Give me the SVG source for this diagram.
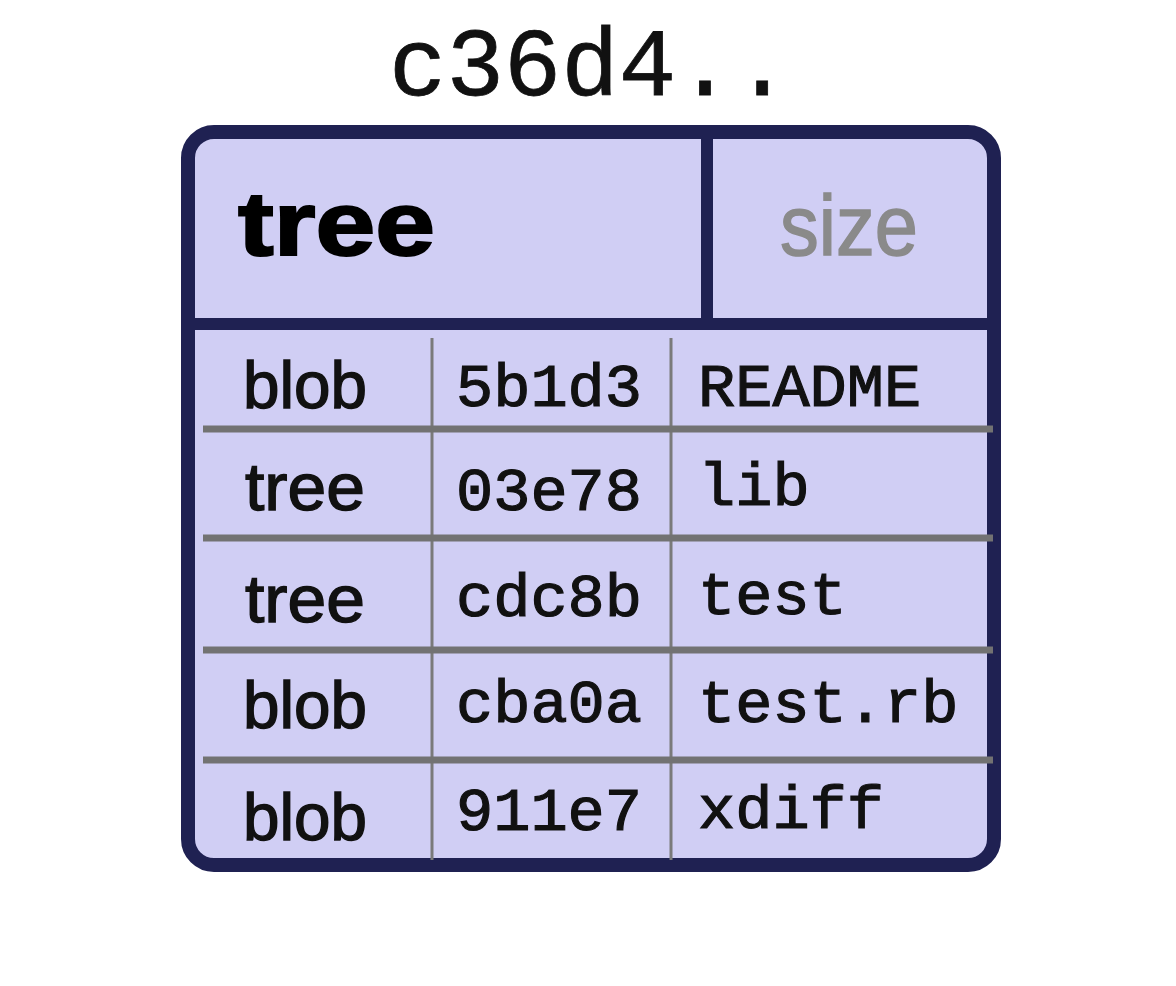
<svg xmlns="http://www.w3.org/2000/svg" width="1176" height="986" viewBox="0 0 1176 986">
  <style>
    .frame { fill: #d0cef4; stroke: #1f2152; stroke-width: 14; }
    .hdiv { stroke: #1f2152; stroke-width: 12; fill: none; }
    .rdiv { stroke: #727272; stroke-width: 7; fill: none; }
    .cdiv { stroke: #7a7a7a; stroke-width: 3; fill: none; }
    .mono { font-family: "Liberation Mono", "Courier New", monospace; fill: #111; }
    .cell { stroke: #111; stroke-width: 1.2; }
    .sans { font-family: "Liberation Sans", Arial, sans-serif; fill: #111; }
    .kind { stroke: #111; stroke-width: 1.4; }
  </style>
  <rect width="1176" height="986" fill="#ffffff"/>
  <text id="title" class="mono" x="389" y="95" font-size="96" textLength="402" lengthAdjust="spacingAndGlyphs" style="stroke:#111;stroke-width:0.8">c36d4..</text>
  <g id="tree-object">
    <rect class="frame" x="188" y="132" width="806" height="733" rx="26" ry="26"/>
    <line class="hdiv" x1="188" y1="324" x2="994" y2="324"/>
    <line class="hdiv" x1="707" y1="132" x2="707" y2="324"/>
    <text class="sans" x="238" y="255" font-size="90" font-weight="bold" style="fill:#000;stroke:#000;stroke-width:2" textLength="197" lengthAdjust="spacingAndGlyphs">tree</text>
    <text class="sans" x="780" y="255" font-size="86" style="fill:#8a8a8a;stroke:#8a8a8a;stroke-width:1.5" textLength="138" lengthAdjust="spacingAndGlyphs">size</text>
  </g>
  <g id="rows">
    <line class="cdiv" x1="432" y1="338" x2="432" y2="860"/>
    <line class="cdiv" x1="671" y1="338" x2="671" y2="860"/>
    <line class="rdiv" x1="203" y1="429" x2="993" y2="429"/>
    <line class="rdiv" x1="203" y1="538" x2="993" y2="538"/>
    <line class="rdiv" x1="203" y1="650" x2="993" y2="650"/>
    <line class="rdiv" x1="203" y1="760" x2="993" y2="760"/>
  </g>
  <g id="row1">
    <text class="sans kind" x="243" y="408" font-size="66" textLength="124" lengthAdjust="spacingAndGlyphs">blob</text>
    <text class="mono cell" x="456" y="406" font-size="62">5b1d3</text>
    <text class="mono cell" x="698" y="406" font-size="62">README</text>
  </g>
  <g id="row2">
    <text class="sans kind" x="245" y="510" font-size="66" textLength="120" lengthAdjust="spacingAndGlyphs">tree</text>
    <text class="mono cell" x="456" y="510" font-size="62">03e78</text>
    <text class="mono cell" x="698" y="505" font-size="62">lib</text>
  </g>
  <g id="row3">
    <text class="sans kind" x="245" y="622" font-size="66" textLength="120" lengthAdjust="spacingAndGlyphs">tree</text>
    <text class="mono cell" x="456" y="616" font-size="62">cdc8b</text>
    <text class="mono cell" x="698" y="614" font-size="62">test</text>
  </g>
  <g id="row4">
    <text class="sans kind" x="243" y="728" font-size="66" textLength="124" lengthAdjust="spacingAndGlyphs">blob</text>
    <text class="mono cell" x="456" y="722" font-size="62">cba0a</text>
    <text class="mono cell" x="698" y="722" font-size="62">test.rb</text>
  </g>
  <g id="row5">
    <text class="sans kind" x="243" y="840" font-size="66" textLength="124" lengthAdjust="spacingAndGlyphs">blob</text>
    <text class="mono cell" x="456" y="830" font-size="62">911e7</text>
    <text class="mono cell" x="698" y="828" font-size="62">xdiff</text>
  </g>
</svg>
